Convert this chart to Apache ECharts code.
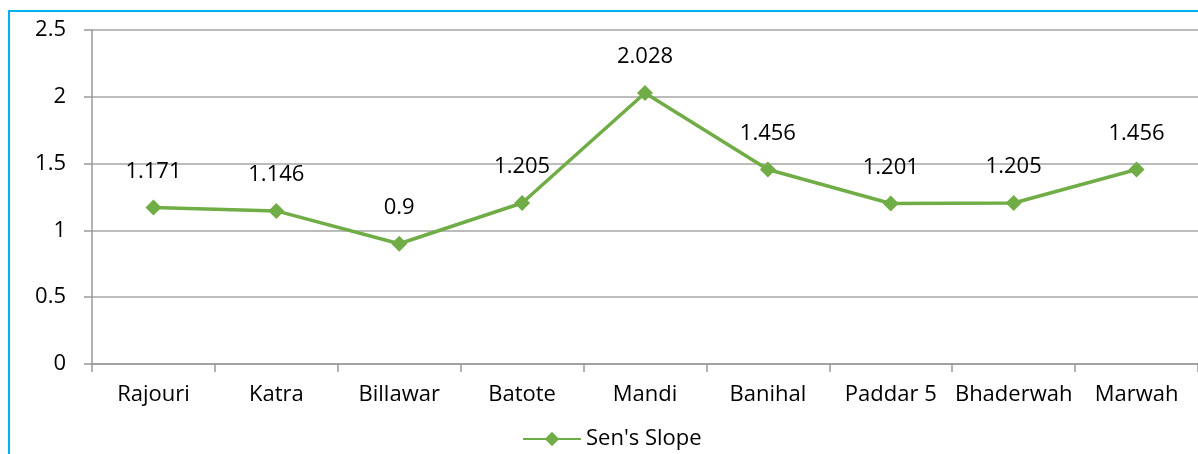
<!DOCTYPE html>
<html>
<head>
<meta charset="utf-8">
<script src="https://cdn.jsdelivr.net/npm/echarts@6/dist/echarts.min.js"></script>
<style>
  html, body { margin: 0; padding: 0; background: #fff; }
  #chart { width: 1198px; height: 454px; }
</style>
</head>
<body>
<div id="chart"></div>
<script>
// stations and slopes
var stations = ['Rajouri', 'Katra', 'Billawar', 'Batote', 'Mandi', 'Banihal', 'Paddar 5', 'Bhaderwah', 'Marwah'];
var senSlope = [1.171, 1.146, 0.9, 1.205, 2.028, 1.456, 1.201, 1.205, 1.456];
var seriesName = "Sen's Slope";

var font = 'Open Sans';
var chart = echarts.init(document.getElementById('chart'));

chart.setOption({
    animation: false,
    graphic: [{
        type: 'rect',
        shape: { x: 9, y: 11, width: 1300, height: 600 },
        style: { fill: 'none', stroke: '#00B0F0', lineWidth: 2 },
        silent: true
    }],
    legend: {
        bottom: -1,
        left: 517,
        itemWidth: 58,
        itemHeight: 18,
        data: [seriesName],
        textStyle: { fontFamily: font, fontSize: 22, color: '#000' }
    },
    grid: {
        left: 92,
        right: -6,
        top: 30,
        bottom: 90
    },
    xAxis: {
        type: 'category',
        data: stations,
        boundaryGap: true,
        axisLine: { lineStyle: { color: '#999', width: 1.5 } },
        axisTick: { show: true, length: 8, lineStyle: { color: '#999', width: 1.5 } },
        axisLabel: { interval: 0, margin: 20, fontFamily: font, fontSize: 22, color: '#000' }
    },
    yAxis: {
        type: 'value',
        min: 0,
        max: 2.5,
        interval: 0.5,
        axisLine: { show: true, lineStyle: { color: '#999', width: 1.5 } },
        axisTick: { show: true, length: 8, lineStyle: { color: '#999', width: 1.5 } },
        splitLine: { lineStyle: { color: '#A6A6A6', width: 1.5 } },
        axisLabel: { margin: 26, fontFamily: font, fontSize: 22, color: '#000' }
    },
    series: [{
        name: seriesName,
        type: 'line',
        data: senSlope,
        symbol: 'diamond',
        symbolSize: 16,
        itemStyle: { color: '#70AD47' },
        lineStyle: { color: '#70AD47', width: 3.5 },
        label: {
            show: true,
            position: 'top',
            distance: 17,
            fontFamily: font,
            fontSize: 22,
            color: '#000'
        }
    }]
});
</script>
</body>
</html>
